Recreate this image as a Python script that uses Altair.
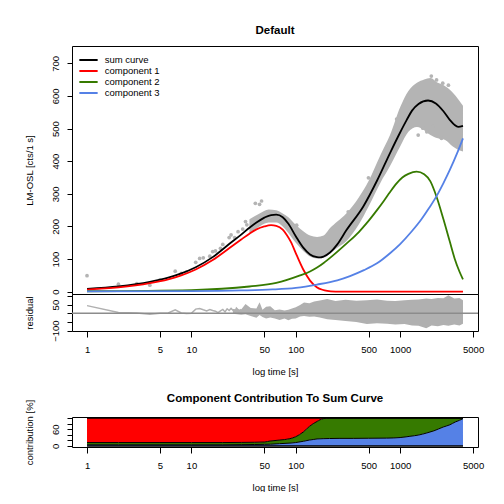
import altair as alt
import pandas as pd

FONT = "Liberation Sans"
GRAY = "#b4b4b4"
RED = "#ff0000"
GREEN = "#367a00"
BLUE = "#5581e6"

# ---------------- main panel ----------------
sum_t = [1, 2, 4, 6, 8, 11, 16, 23, 30, 36, 42, 50, 58, 65, 75, 85, 100, 118, 137, 160, 171, 185,
         213, 250, 305, 445, 600, 800, 1000, 1150, 1300, 1500, 1850, 2200, 2600, 3000, 3300, 3600,
         4000]
sum_v = [8.5, 16, 30, 43, 56, 75, 106, 146, 175, 196, 212, 227, 235, 236, 228, 208, 170, 135, 114,
         106, 105, 108, 120, 145, 188, 262, 340, 425, 488, 525, 555, 575, 586, 577, 553, 526, 512,
         505, 508]

red_t = [1, 2, 4, 6, 8, 11, 16, 23, 30, 36, 42, 50, 58, 65, 75, 82, 90, 102, 118, 137, 159, 180,
         200, 240, 300, 1000, 4000]
red_v = [6.5, 13, 26, 38, 50, 68, 97, 133, 160, 178, 191, 200, 204, 202, 190, 174, 152, 112, 68, 34,
         14, 6, 2.5, 0.5, 0, 0, 0]

green_t = [1, 10, 36, 65, 110, 137, 160, 185, 229, 300, 400, 478, 600, 700, 798, 925, 1050, 1200,
           1438, 1700, 1950, 2233, 2600, 3000, 3325, 3700, 4000]
green_v = [1.5, 5, 16, 27, 50, 62, 74, 88, 112, 145, 182, 210, 250, 279, 305, 332, 350, 361,
           368, 360, 338, 291, 222, 152, 102, 62, 38]

blue_t = [1, 10, 30, 60, 100, 160, 250, 331, 450, 600, 800, 1000, 1300, 1600, 1900, 2233, 2600,
          3000, 3500, 4000]
blue_v = [1, 2, 4, 7, 12, 22, 35, 48, 66, 87, 118, 146, 186, 222, 257, 293, 333, 374, 423, 470]

# dense measured cloud: lower / upper envelope
band_t = [36, 45, 55, 65, 75, 85, 100, 118, 137, 160, 185, 213, 250, 305, 400, 500, 650, 800, 1000,
          1200, 1450, 1700, 1950, 2300, 2700, 3200, 3600, 4000]
band_lo = [180, 200, 212, 212, 200, 180, 150, 125, 108, 102, 104, 118, 135, 155, 205, 262, 335, 385,
           445, 490, 505, 495, 480, 470, 465, 445, 435, 430]
band_hi = [222, 240, 252, 250, 240, 228, 205, 185, 172, 168, 172, 195, 215, 240, 288, 340, 420, 480,
           565, 615, 640, 650, 655, 640, 630, 610, 590, 570]

# single measured points
pt_t = [1, 2, 3, 4, 5, 7, 8, 9, 11, 12, 13, 15, 16, 17, 19, 20, 23, 24, 26, 28, 31, 33, 34,
        41, 45, 47, 102, 318, 497, 925, 1490, 1650, 1800, 1990, 2070, 2233, 2490, 2560, 2900]
pt_v = [49, 23, 25, 20, 36, 63, 56, 61, 90, 102, 104, 109, 123, 125, 133, 145, 166, 174, 166, 184,
        192, 215, 205, 271, 268, 278, 204, 245, 349, 529, 480, 501, 490, 661, 506, 649, 470, 639, 633]

SERIES = ["sum curve", "component 1", "component 2", "component 3"]
COLORS = ["#000000", RED, GREEN, BLUE]

# ---------------- residual panel ----------------
rl_t = [1, 2, 3, 4, 5, 6, 7, 8, 9, 10, 11, 12, 13, 14, 15, 16, 17, 18, 19, 20, 21, 22, 23, 24, 25,
        26, 27, 28, 29, 30]
rl_v = [44, 4, 2, -6, 0, 2, 20, 2, -1, 0, 24, 27, 20, 14, 22, 16, 12, 4, 14, 22, 8, 26, 16, 28, 18,
        6, 30, 20, 4, 24]

rb_t = [25, 30, 33, 37, 42, 45, 48, 52, 57, 63, 70, 78, 85, 92, 100, 110, 120, 135, 150, 170, 200,
        240, 300, 380, 480, 600, 750, 900, 1100, 1300, 1500, 1780, 2000, 2300, 2600, 2900, 3300,
        3700, 4000]
rb_lo = [-2, -8, -5, -15, -26, -10, -22, -30, -25, -30, -38, -30, -40, -32, -30, -18, -15, -20, -18,
         -25, -35, -38, -45, -50, -62, -58, -60, -65, -62, -70, -72, -86, -70, -75, -68, -72, -65,
         -70, -60]
rb_hi = [25, 22, 54, 30, 28, 64, 20, 38, 40, 18, 22, 16, 20, 28, 35, 48, 62, 58, 68, 74, 82, 70, 78,
         72, 75, 80, 72, 70, 75, 78, 80, 85, 82, 88, 86, 104, 85, 88, 75]

# ---------------- contribution panel (cumulative %) ----------------
ct = [1, 2, 5, 10, 20, 30, 40, 50, 57, 70, 88, 100, 118, 135, 147, 160, 183, 210, 260, 355, 500,
      741, 1000, 1241, 1500, 1780, 2100, 2590, 3000, 3370, 3700, 4000]
c_blue = [4, 4, 4, 4, 4, 4.5, 5, 5.5, 6, 8, 10, 12, 16.5, 21, 23, 25, 26, 26.5, 27, 27, 27.5, 28,
          30, 34.5, 39, 46, 54, 68, 76, 86, 92, 98]
c_green = [12, 12, 12, 12, 12, 12.5, 13, 14, 17.5, 21, 26, 33, 50, 70, 80, 88, 98, 100, 100, 100,
           100, 100, 100, 100, 100, 100, 100, 100, 100, 100, 100, 100]

X_TICKS = [1, 5, 10, 50, 100, 500, 1000, 5000]

W = 406
xs = alt.Scale(type="log", domain=[0.718, 5572], nice=False)
x_none = alt.X("t:Q", scale=xs, axis=None)

common_y = dict(labelAngle=-90, labelAlign="center", labelBaseline="alphabetic", labelPadding=8.2,
                tickSize=5, tickColor="black", labelColor="black", labelFont=FONT,
                labelFontSize=9.5, domain=False, grid=False, titleFont=FONT, titleFontSize=9.5,
                titleFontWeight="normal", titleColor="black", titleAngle=-90, titleAlign="center",
                titleBaseline="alphabetic", titleX=-40)

x_axis = alt.Axis(values=X_TICKS, format="d", tickSize=6, tickColor="black", labelColor="black",
                  labelFont=FONT, labelFontSize=9.5, labelBaseline="alphabetic", labelPadding=15.5,
                  labelFlush=False, labelOverlap=False, domain=False, grid=False,
                  title="log time [s]", titleFont=FONT, titleFontSize=9.5, titleFontWeight="normal",
                  titleColor="black", titleBaseline="alphabetic", titleY=43)

# ----- main
y_main = alt.Scale(domain=[-7, 753], nice=False, zero=False)
ax_main = alt.Axis(values=list(range(0, 701, 100)), title="LM-OSL [cts/1 s]", titleY=124, **common_y)

band = alt.Chart(pd.DataFrame({"t": band_t, "lo": band_lo, "hi": band_hi})).mark_area(
    color=GRAY, interpolate="monotone").encode(
    x=x_none, y=alt.Y("lo:Q", scale=y_main, axis=ax_main), y2="hi:Q")

pts = alt.Chart(pd.DataFrame({"t": pt_t, "v": pt_v})).mark_circle(
    color=GRAY, size=14, opacity=1).encode(x=x_none, y=alt.Y("v:Q", scale=y_main, axis=ax_main))

lines_df = pd.concat([
    pd.DataFrame({"t": sum_t, "v": sum_v, "s": SERIES[0], "o": 0}),
    pd.DataFrame({"t": red_t, "v": red_v, "s": SERIES[1], "o": 1}),
    pd.DataFrame({"t": green_t, "v": green_v, "s": SERIES[2], "o": 2}),
    pd.DataFrame({"t": blue_t, "v": blue_v, "s": SERIES[3], "o": 3}),
], ignore_index=True)

legend = alt.Legend(orient="none", legendX=6, legendY=8.8, title=None, symbolType="stroke",
                    symbolSize=335, symbolStrokeWidth=2, labelFont=FONT, labelFontSize=9.5,
                    labelColor="black", labelOffset=5.7, clipHeight=10.3, rowPadding=0, padding=0)

curves = alt.Chart(lines_df).mark_line(interpolate="monotone", strokeWidth=1.8).encode(
    x=x_none, y=alt.Y("v:Q", scale=y_main, axis=ax_main),
    color=alt.Color("s:N", scale=alt.Scale(domain=SERIES, range=COLORS), legend=legend),
    detail="o:N")

main = alt.layer(band, pts, curves).properties(
    width=W, height=248,
    title=alt.TitleParams("Default", font=FONT, fontSize=11.5, fontWeight="bold", color="black",
                          anchor="middle", baseline="alphabetic", offset=0.9))

# ----- residual
y_res = alt.Scale(domain=[-102, 111], nice=False, zero=False)
ax_res = alt.Axis(values=[-100, -50, 0, 50, 100],
                  labelExpr="datum.value == 50 || datum.value == -100 ? datum.label : ''",
                  title="residual", titleY=18.5, **common_y)
x_res = alt.X("t:Q", scale=xs, axis=x_axis)

r_band = alt.Chart(pd.DataFrame({"t": rb_t, "lo": rb_lo, "hi": rb_hi})).mark_area(
    color="#b0b0b0").encode(x=x_res, y=alt.Y("lo:Q", scale=y_res, axis=ax_res), y2="hi:Q")
r_line = alt.Chart(pd.DataFrame({"t": rl_t, "r": rl_v})).mark_line(
    color="#b0b0b0", strokeWidth=1.5).encode(x=x_res, y=alt.Y("r:Q", scale=y_res, axis=ax_res))
r_zero = alt.Chart(pd.DataFrame({"r": [0]})).mark_rule(color="#8c8c8c", strokeWidth=1.5).encode(
    y=alt.Y("r:Q", scale=y_res, axis=ax_res))

resid = alt.layer(r_band, r_line, r_zero).properties(width=W, height=37)

# ----- spacer
spacer = alt.Chart(pd.DataFrame({"t": [1]})).mark_point(opacity=0).encode(
    x=alt.value(0), y=alt.value(0)).properties(
    width=W, height=85.5, view=alt.ViewBackground(strokeOpacity=0))

# ----- contribution
y_con = alt.Scale(domain=[-4, 104], nice=False, zero=False)
ax_con = alt.Axis(values=[0, 20, 40, 60, 80, 100],
                  labelExpr="datum.value == 0 || datum.value == 60 ? datum.label : ''",
                  title="contribution [%]", titleY=15, **common_y)
cdf = pd.DataFrame({"t": ct, "b": c_blue, "g": c_green,
                    "z": [0] * len(ct), "h": [100] * len(ct)})
base_c = alt.Chart(cdf)
x_con = alt.X("t:Q", scale=xs, axis=x_axis)

a_blue = base_c.mark_area(color=BLUE, interpolate="monotone").encode(
    x=x_con, y=alt.Y("z:Q", scale=y_con, axis=ax_con), y2="b:Q")
a_green = base_c.mark_area(color=GREEN, interpolate="monotone").encode(
    x=x_con, y=alt.Y("b:Q", scale=y_con, axis=ax_con), y2="g:Q")
a_red = base_c.mark_area(color=RED, interpolate="monotone").encode(
    x=x_con, y=alt.Y("g:Q", scale=y_con, axis=ax_con), y2="h:Q")
l_b = base_c.mark_line(color="black", strokeWidth=1, interpolate="monotone").encode(
    x=x_con, y=alt.Y("b:Q", scale=y_con, axis=ax_con))
l_g = base_c.mark_line(color="black", strokeWidth=1, interpolate="monotone").encode(
    x=x_con, y=alt.Y("g:Q", scale=y_con, axis=ax_con))
l_h = base_c.mark_line(color="black", strokeWidth=1.5).encode(
    x=x_con, y=alt.Y("h:Q", scale=y_con, axis=ax_con))
l_z = base_c.mark_line(color="black", strokeWidth=1.5).encode(
    x=x_con, y=alt.Y("z:Q", scale=y_con, axis=ax_con))

contrib = alt.layer(a_blue, a_green, a_red, l_b, l_g, l_h, l_z).properties(
    width=W, height=30,
    title=alt.TitleParams("Component Contribution To Sum Curve", font=FONT, fontSize=11.5,
                          fontWeight="bold", color="black", anchor="middle",
                          baseline="alphabetic", offset=-14))

chart = alt.vconcat(main, resid, spacer, contrib, spacing=0, bounds="flush").properties(
    padding={"left": 15, "top": 16, "right": 0, "bottom": 0},
    background="white").configure_view(stroke="black", strokeWidth=1)

chart.save("out.html", embed_options={"renderer": "svg", "actions": False})
